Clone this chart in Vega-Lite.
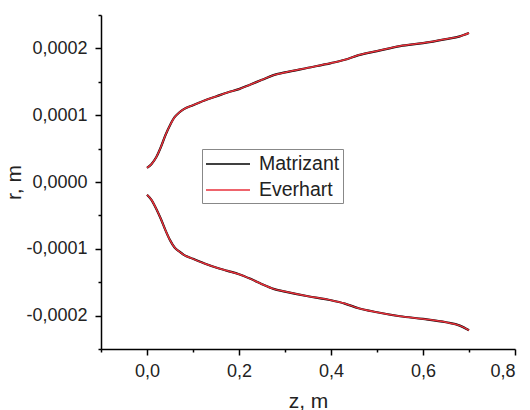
{
  "$schema": "https://vega.github.io/schema/vega-lite/v6.json",
  "width": 414,
  "height": 334,
  "autosize": {"type": "none"},
  "padding": {"left": 101, "top": 15, "right": 15, "bottom": 61},
  "background": "white",
  "datasets": {
    "pts": [
      {"m": "Matrizant", "b": "up", "z": 0.0, "r": 0.000021},
      {"m": "Matrizant", "b": "up", "z": 0.01, "r": 0.000027},
      {"m": "Matrizant", "b": "up", "z": 0.02, "r": 0.000037},
      {"m": "Matrizant", "b": "up", "z": 0.03, "r": 0.000052},
      {"m": "Matrizant", "b": "up", "z": 0.04, "r": 0.000070},
      {"m": "Matrizant", "b": "up", "z": 0.05, "r": 0.000085},
      {"m": "Matrizant", "b": "up", "z": 0.06, "r": 0.000097},
      {"m": "Matrizant", "b": "up", "z": 0.07, "r": 0.000104},
      {"m": "Matrizant", "b": "up", "z": 0.08, "r": 0.000109},
      {"m": "Matrizant", "b": "up", "z": 0.10, "r": 0.000115},
      {"m": "Matrizant", "b": "up", "z": 0.125, "r": 0.000122},
      {"m": "Matrizant", "b": "up", "z": 0.15, "r": 0.000128},
      {"m": "Matrizant", "b": "up", "z": 0.175, "r": 0.000134},
      {"m": "Matrizant", "b": "up", "z": 0.20, "r": 0.000139},
      {"m": "Matrizant", "b": "up", "z": 0.225, "r": 0.000146},
      {"m": "Matrizant", "b": "up", "z": 0.25, "r": 0.000153},
      {"m": "Matrizant", "b": "up", "z": 0.275, "r": 0.000160},
      {"m": "Matrizant", "b": "up", "z": 0.30, "r": 0.000164},
      {"m": "Matrizant", "b": "up", "z": 0.35, "r": 0.000171},
      {"m": "Matrizant", "b": "up", "z": 0.40, "r": 0.000178},
      {"m": "Matrizant", "b": "up", "z": 0.43, "r": 0.000183},
      {"m": "Matrizant", "b": "up", "z": 0.46, "r": 0.000190},
      {"m": "Matrizant", "b": "up", "z": 0.50, "r": 0.000196},
      {"m": "Matrizant", "b": "up", "z": 0.55, "r": 0.0002035},
      {"m": "Matrizant", "b": "up", "z": 0.60, "r": 0.000208},
      {"m": "Matrizant", "b": "up", "z": 0.65, "r": 0.000214},
      {"m": "Matrizant", "b": "up", "z": 0.68, "r": 0.000218},
      {"m": "Matrizant", "b": "up", "z": 0.70, "r": 0.000223},
      {"m": "Matrizant", "b": "lo", "z": 0.0, "r": -0.000019},
      {"m": "Matrizant", "b": "lo", "z": 0.01, "r": -0.000027},
      {"m": "Matrizant", "b": "lo", "z": 0.02, "r": -0.000040},
      {"m": "Matrizant", "b": "lo", "z": 0.03, "r": -0.000055},
      {"m": "Matrizant", "b": "lo", "z": 0.04, "r": -0.000072},
      {"m": "Matrizant", "b": "lo", "z": 0.05, "r": -0.000087},
      {"m": "Matrizant", "b": "lo", "z": 0.06, "r": -0.000098},
      {"m": "Matrizant", "b": "lo", "z": 0.07, "r": -0.000104},
      {"m": "Matrizant", "b": "lo", "z": 0.08, "r": -0.000109},
      {"m": "Matrizant", "b": "lo", "z": 0.10, "r": -0.000115},
      {"m": "Matrizant", "b": "lo", "z": 0.125, "r": -0.000122},
      {"m": "Matrizant", "b": "lo", "z": 0.15, "r": -0.000128},
      {"m": "Matrizant", "b": "lo", "z": 0.175, "r": -0.000133},
      {"m": "Matrizant", "b": "lo", "z": 0.20, "r": -0.000138},
      {"m": "Matrizant", "b": "lo", "z": 0.225, "r": -0.000145},
      {"m": "Matrizant", "b": "lo", "z": 0.25, "r": -0.000153},
      {"m": "Matrizant", "b": "lo", "z": 0.275, "r": -0.000160},
      {"m": "Matrizant", "b": "lo", "z": 0.30, "r": -0.000164},
      {"m": "Matrizant", "b": "lo", "z": 0.35, "r": -0.000171},
      {"m": "Matrizant", "b": "lo", "z": 0.40, "r": -0.000177},
      {"m": "Matrizant", "b": "lo", "z": 0.43, "r": -0.000182},
      {"m": "Matrizant", "b": "lo", "z": 0.46, "r": -0.000189},
      {"m": "Matrizant", "b": "lo", "z": 0.50, "r": -0.000195},
      {"m": "Matrizant", "b": "lo", "z": 0.55, "r": -0.000201},
      {"m": "Matrizant", "b": "lo", "z": 0.60, "r": -0.000205},
      {"m": "Matrizant", "b": "lo", "z": 0.65, "r": -0.000210},
      {"m": "Matrizant", "b": "lo", "z": 0.68, "r": -0.000215},
      {"m": "Matrizant", "b": "lo", "z": 0.70, "r": -0.000222},
      {"m": "Everhart", "b": "up", "z": 0.0, "r": 0.000021},
      {"m": "Everhart", "b": "up", "z": 0.01, "r": 0.000027},
      {"m": "Everhart", "b": "up", "z": 0.02, "r": 0.000037},
      {"m": "Everhart", "b": "up", "z": 0.03, "r": 0.000052},
      {"m": "Everhart", "b": "up", "z": 0.04, "r": 0.000070},
      {"m": "Everhart", "b": "up", "z": 0.05, "r": 0.000085},
      {"m": "Everhart", "b": "up", "z": 0.06, "r": 0.000097},
      {"m": "Everhart", "b": "up", "z": 0.07, "r": 0.000104},
      {"m": "Everhart", "b": "up", "z": 0.08, "r": 0.000109},
      {"m": "Everhart", "b": "up", "z": 0.10, "r": 0.000115},
      {"m": "Everhart", "b": "up", "z": 0.125, "r": 0.000122},
      {"m": "Everhart", "b": "up", "z": 0.15, "r": 0.000128},
      {"m": "Everhart", "b": "up", "z": 0.175, "r": 0.000134},
      {"m": "Everhart", "b": "up", "z": 0.20, "r": 0.000139},
      {"m": "Everhart", "b": "up", "z": 0.225, "r": 0.000146},
      {"m": "Everhart", "b": "up", "z": 0.25, "r": 0.000153},
      {"m": "Everhart", "b": "up", "z": 0.275, "r": 0.000160},
      {"m": "Everhart", "b": "up", "z": 0.30, "r": 0.000164},
      {"m": "Everhart", "b": "up", "z": 0.35, "r": 0.000171},
      {"m": "Everhart", "b": "up", "z": 0.40, "r": 0.000178},
      {"m": "Everhart", "b": "up", "z": 0.43, "r": 0.000183},
      {"m": "Everhart", "b": "up", "z": 0.46, "r": 0.000190},
      {"m": "Everhart", "b": "up", "z": 0.50, "r": 0.000196},
      {"m": "Everhart", "b": "up", "z": 0.55, "r": 0.0002035},
      {"m": "Everhart", "b": "up", "z": 0.60, "r": 0.000208},
      {"m": "Everhart", "b": "up", "z": 0.65, "r": 0.000214},
      {"m": "Everhart", "b": "up", "z": 0.68, "r": 0.000218},
      {"m": "Everhart", "b": "up", "z": 0.70, "r": 0.000223},
      {"m": "Everhart", "b": "lo", "z": 0.0, "r": -0.000019},
      {"m": "Everhart", "b": "lo", "z": 0.01, "r": -0.000027},
      {"m": "Everhart", "b": "lo", "z": 0.02, "r": -0.000040},
      {"m": "Everhart", "b": "lo", "z": 0.03, "r": -0.000055},
      {"m": "Everhart", "b": "lo", "z": 0.04, "r": -0.000072},
      {"m": "Everhart", "b": "lo", "z": 0.05, "r": -0.000087},
      {"m": "Everhart", "b": "lo", "z": 0.06, "r": -0.000098},
      {"m": "Everhart", "b": "lo", "z": 0.07, "r": -0.000104},
      {"m": "Everhart", "b": "lo", "z": 0.08, "r": -0.000109},
      {"m": "Everhart", "b": "lo", "z": 0.10, "r": -0.000115},
      {"m": "Everhart", "b": "lo", "z": 0.125, "r": -0.000122},
      {"m": "Everhart", "b": "lo", "z": 0.15, "r": -0.000128},
      {"m": "Everhart", "b": "lo", "z": 0.175, "r": -0.000133},
      {"m": "Everhart", "b": "lo", "z": 0.20, "r": -0.000138},
      {"m": "Everhart", "b": "lo", "z": 0.225, "r": -0.000145},
      {"m": "Everhart", "b": "lo", "z": 0.25, "r": -0.000153},
      {"m": "Everhart", "b": "lo", "z": 0.275, "r": -0.000160},
      {"m": "Everhart", "b": "lo", "z": 0.30, "r": -0.000164},
      {"m": "Everhart", "b": "lo", "z": 0.35, "r": -0.000171},
      {"m": "Everhart", "b": "lo", "z": 0.40, "r": -0.000177},
      {"m": "Everhart", "b": "lo", "z": 0.43, "r": -0.000182},
      {"m": "Everhart", "b": "lo", "z": 0.46, "r": -0.000189},
      {"m": "Everhart", "b": "lo", "z": 0.50, "r": -0.000195},
      {"m": "Everhart", "b": "lo", "z": 0.55, "r": -0.000201},
      {"m": "Everhart", "b": "lo", "z": 0.60, "r": -0.000205},
      {"m": "Everhart", "b": "lo", "z": 0.65, "r": -0.000210},
      {"m": "Everhart", "b": "lo", "z": 0.68, "r": -0.000215},
      {"m": "Everhart", "b": "lo", "z": 0.70, "r": -0.000222}
    ]
  },
  "data": {"name": "pts"},
  "encoding": {
    "x": {
      "field": "z", "type": "quantitative",
      "scale": {"domain": [-0.1, 0.8], "nice": false, "zero": false},
      "axis": {
        "title": "z, m",
        "values": [-0.1, 0, 0.1, 0.2, 0.3, 0.4, 0.5, 0.6, 0.7, 0.8],
        "labelExpr": "round(datum.value*10) % 2 == 0 ? replace(format(datum.value, '.1f'), '.', ',') : ''",
        "tickSize": {"condition": {"test": "round(datum.value*10) % 2 == 0", "value": 6}, "value": 3},
        "labelPadding": 7,
        "titlePadding": 10
      }
    },
    "y": {
      "field": "r", "type": "quantitative",
      "scale": {"domain": [-0.00025, 0.00025], "nice": false, "zero": false},
      "axis": {
        "title": "r, m",
        "values": [-0.00025, -0.0002, -0.00015, -0.0001, -0.00005, 0, 0.00005, 0.0001, 0.00015, 0.0002, 0.00025],
        "labelExpr": "round(datum.value*20000) % 2 == 0 ? replace(replace(format(datum.value, '.4f'), '.', ','), '−', '-') : ''",
        "tickSize": {"condition": {"test": "round(datum.value*20000) % 2 == 0", "value": 6}, "value": 3},
        "labelPadding": 8,
        "titlePadding": 1
      }
    },
    "color": {
      "field": "m", "type": "nominal",
      "scale": {"domain": ["Matrizant", "Everhart"], "range": ["#000000", "#e8313b"]},
      "legend": {
        "title": null,
        "orient": "none",
        "legendX": 101,
        "legendY": 134,
        "symbolType": "M-1,0H3",
        "symbolSize": 484,
        "symbolStrokeWidth": 1.5,
        "labelFontSize": 19.5,
        "labelFont": "Liberation Sans",
        "labelColor": "#222222",
        "labelOffset": 30,
        "strokeColor": "#888888",
        "padding": 3,
        "rowPadding": 4
      }
    },
    "detail": {"field": "b", "type": "nominal"}
  },
  "layer": [
    {
      "transform": [{"filter": "datum.m == 'Matrizant'"}],
      "mark": {"type": "line", "strokeWidth": 2.2, "interpolate": "monotone"}
    },
    {
      "transform": [{"filter": "datum.m == 'Everhart'"}],
      "mark": {"type": "line", "strokeWidth": 1.5, "interpolate": "monotone"}
    }
  ],
  "config": {
    "view": {"stroke": null},
    "axis": {
      "grid": false,
      "domainColor": "#000000",
      "domainWidth": 1.5,
      "tickColor": "#000000",
      "tickWidth": 1.5,
      "labelFont": "Liberation Sans",
      "labelFontSize": 18,
      "labelColor": "#222222",
      "titleFont": "Liberation Sans",
      "titleFontSize": 21,
      "titleFontWeight": "normal",
      "titleColor": "#222222"
    }
  }
}
